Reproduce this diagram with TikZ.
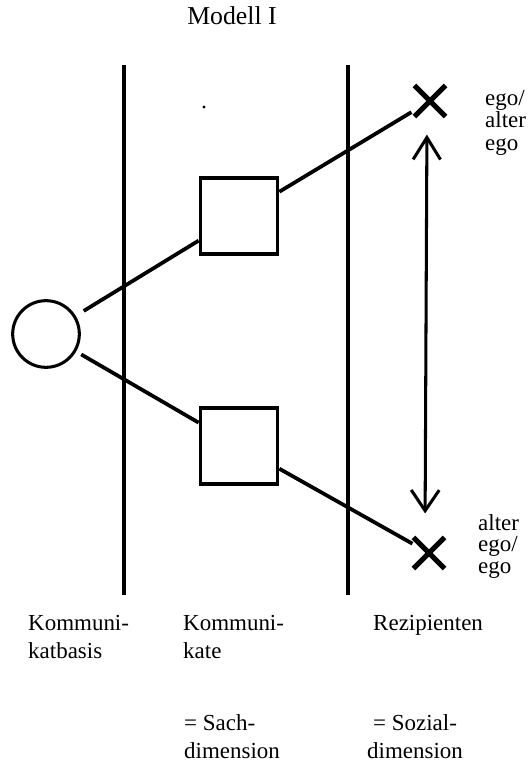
\documentclass[tikz,border=0pt]{standalone}
\usepackage{fontspec}
\setmainfont{Liberation Serif}
\usetikzlibrary{shapes.misc,arrows.meta}

\begin{document}
\begin{tikzpicture}[x=0.03cm,y=-0.03cm,
  wallstyle/.style={line width=4pt},
  ringstyle/.style={circle,draw,line width=2.6pt,minimum size=2cm,inner sep=0},
  boxstyle/.style={rectangle,draw,line width=2.6pt,minimum width=2.33cm,minimum height=2.28cm,inner sep=0},
  crossstyle/.style={cross out,draw,line width=4.4pt,minimum size=0.78cm,inner sep=0},
  linkstyle/.style={line width=3.2pt},
  labelstyle/.style={font=\fontsize{19.6}{23.9}\selectfont,inner sep=0,anchor=north west,align=left},
  egostyle/.style={font=\fontsize{19.6}{19.2}\selectfont,inner sep=0,anchor=north west,align=left}]
\useasboundingbox (0,0) rectangle (530,763);
\node[font=\fontsize{22}{26}\selectfont,inner sep=0,anchor=base] (title) at (232,25) {Modell I};
% the two walls
\coordinate (wa) at (124,65); \coordinate (wb) at (124,595);
\coordinate (wc) at (348,65); \coordinate (wd) at (348,595);
\draw[wallstyle] (wa) -- (wb);
\draw[wallstyle] (wc) -- (wd);
\fill (204,107) circle (1.3pt);
% basis, kommunikate, rezipienten
\node[ringstyle] (basis) at (46,334) {};
\node[boxstyle] (sachA) at (239,216) {};
\node[boxstyle] (sachB) at (239,446) {};
\node[crossstyle] (egoA) at (430,101) {};
\node[crossstyle] (egoB) at (429,553) {};
\draw[linkstyle,shorten <=8pt] (basis) -- (sachA);
\draw[linkstyle,shorten <=5pt] (basis) -- (sachB);
\draw[linkstyle,shorten >=3pt] (sachA) -- (egoA);
\draw[linkstyle,shorten >=1pt] (sachB) -- (egoB);
\draw[line width=2.6pt,{Straight Barb[length=0.66cm,width=0.82cm]}-{Straight Barb[length=0.62cm,width=0.84cm]},
  shorten <=0.54cm,shorten >=0.72cm] ([xshift=-0.09cm]egoA.south) -- ([xshift=-0.12cm]egoB.north);
% labels
\node[egostyle] (egoAtext) at (485,90) {ego/\\alter\\ego};
\node[egostyle,font=\fontsize{19.6}{18.4}\selectfont] (egoBtext) at (478,514) {alter\\ego/\\ego};
\node[labelstyle] (basistext) at (28,615) {Kommuni-\\katbasis};
\node[labelstyle] (sachtext) at (183,615) {Kommuni-\\kate};
\node[labelstyle] (reztext) at (373,615) {Rezipienten};
\node[labelstyle] (sachdim) at (184,714) {= Sach-\\dimension};
\node[labelstyle,align=center] (sozdim) at (367,714) {= Sozial-\\dimension};
\end{tikzpicture}
\end{document}
